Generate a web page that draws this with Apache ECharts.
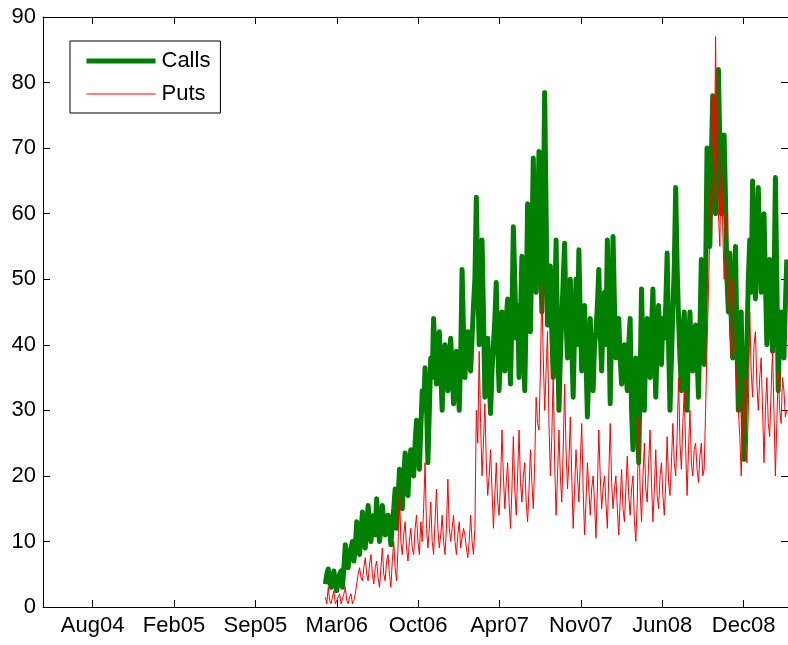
<!DOCTYPE html>
<html>
<head>
<meta charset="utf-8">
<script src="https://cdn.jsdelivr.net/npm/echarts@6/dist/echarts.min.js"></script>
<style>
  html, body { margin: 0; padding: 0; background: #fff; }
  #chart { width: 788px; height: 645px; }
</style>
</head>
<body>
<div id="chart"></div>
<script>
// Tick labels along the date axis (days counted from the Aug04 tick)
const tickLabels = ['Aug04', 'Feb05', 'Sep05', 'Mar06', 'Oct06', 'Apr07', 'Nov07', 'Jun08', 'Dec08'];
const tickDays = [0, 200, 400, 600, 800, 1000, 1200, 1400, 1600];

// Observations every 3.5 days, first one at day 572
const firstDay = 572;
const stepDays = 3.5;

const calls = [
  3.5, 5, 5.8, 4, 3, 4.5, 5.5, 3.5, 2.5, 4,
  5, 5.5, 3, 6, 9.5, 7, 6, 8, 9, 10,
  7, 9, 13, 10, 8, 11, 14.5, 12, 9, 12,
  15.5, 13, 10, 12.5, 14, 11, 16.5, 13, 10, 12,
  15.5, 13, 11, 12.5, 14, 12, 9.5, 13, 15, 18,
  12, 16, 21, 18, 15, 20, 23.5, 19, 17, 22,
  24, 21, 20, 25, 28.5, 24, 21, 27, 33, 30,
  36.5, 31, 22, 30, 38, 35, 44, 38, 34, 40,
  42, 36, 30, 37, 40, 35, 33, 38, 41, 36,
  31, 36, 39, 34, 30, 38, 51.5, 42, 35, 40,
  42, 38, 36, 41, 46, 50, 62.5, 50, 40, 46,
  56, 45, 32, 38, 41, 35, 29.5, 36, 40, 44,
  49.5, 40, 33, 39, 45, 40, 36, 44, 47, 40,
  34, 44, 58, 50, 41, 46, 35, 44, 53.5, 40,
  33, 45, 61.5, 50, 42, 55, 68.5, 55, 48, 58,
  69.5, 56, 45, 60, 78.5, 60, 43, 48, 52, 42,
  35, 45, 56, 42, 30, 38, 44, 50, 55.5, 44,
  38, 45, 50, 40, 32, 42, 50, 40, 54.5, 44,
  36, 42, 46, 38, 29, 36, 44, 38, 33, 40,
  42, 46, 51.5, 42, 36, 44, 48, 40, 56, 44,
  31, 42, 56.5, 46, 38, 42, 44, 38, 34, 38,
  40, 36, 33, 40, 44, 30, 24, 32, 38, 30,
  22, 34, 48.5, 38, 30, 40, 44, 38, 35, 42,
  48.5, 40, 32, 40, 46, 40, 37, 44, 41, 46,
  54, 40, 30, 38, 45, 52, 64, 52, 44, 38,
  33, 42, 45, 36, 30, 40, 45, 38, 36, 42,
  43, 38, 32, 42, 53, 44, 37, 50, 70, 60,
  55, 68, 78, 66, 60, 72, 82, 70, 60, 66,
  72, 62, 50, 45, 54, 44, 38, 48, 55, 40,
  30, 38, 45, 32, 22.5, 32, 40, 50, 56, 48,
  65, 55, 47, 56, 64, 55, 48, 58, 60, 50,
  40, 48, 53, 45, 39, 48, 65.5, 50, 33, 42,
  45, 40, 38, 46, 53
];

const puts = [
  1.5, 0.5, 3, 1, 0.5, 1.5, 2.5, 0.5, 0.3, 1.5,
  2, 0.5, 0.5, 2, 3, 1, 0.5, 1.5, 2, 0.5,
  1, 2, 3.5, 5, 6, 4.5, 4, 6, 7.5, 5,
  4, 6.5, 8, 5, 3.5, 6, 7, 4.5, 3, 6,
  9, 5, 4, 7, 8, 5, 3, 7, 10, 6,
  4, 9, 18.5, 10, 8, 11, 13, 9, 7, 10,
  12, 9, 8, 12, 14, 10, 8, 13, 10, 15,
  22, 12, 9, 12, 16, 10, 8, 13, 18, 12,
  9, 11, 14, 10, 8, 12, 19.5, 12, 10, 12,
  14, 10, 8, 11, 13, 9, 9, 12, 11, 9,
  7.5, 10, 14, 10, 8, 12, 30, 25, 39, 28,
  20, 25, 31, 22, 17, 20, 24, 18, 12, 17,
  22, 16, 14, 19, 27, 20, 15, 19, 22, 16,
  12, 18, 26, 18, 14, 20, 27, 19, 16, 20,
  22, 16, 13, 18, 24, 19, 15, 22, 32, 28,
  27, 36, 49, 38, 30, 36, 42, 28, 20, 26,
  36, 22, 14, 20, 27, 20, 16, 24, 34, 24,
  18, 22, 29, 20, 12, 18, 24, 20, 16, 22,
  28, 18, 11, 16, 22, 18, 14, 18, 20, 16,
  10.5, 18, 27, 20, 15, 18, 20, 16, 12, 20,
  28, 19, 15, 18, 20, 15, 11, 16, 21, 15,
  13, 18, 23, 17, 14, 18, 20, 13, 10, 16,
  29, 18, 13, 20, 25, 18, 16, 22, 27, 19,
  13, 18, 24, 17, 15, 20, 22, 17, 14, 19,
  26, 19, 17, 22, 28, 22, 20, 26, 35, 25,
  21, 28, 33, 24, 17, 24, 30, 22, 20, 24,
  25, 21, 19, 23, 25, 20, 21, 30, 40, 48,
  58, 65, 78, 62, 87, 68, 60, 55, 70, 58,
  50, 55, 60, 48, 43, 38, 50, 40, 38, 33,
  30, 26, 20, 28, 35, 25, 22, 30, 45, 36,
  32, 40, 42, 34, 30, 35, 38, 30, 22, 30,
  35, 28, 26, 33, 39, 30, 20, 28, 36, 30,
  28, 35, 33, 29, 30
];

const toPairs = vals => vals.map((v, i) => [firstDay + i * stepDays, v]);

const axisColor = '#000';
const labelFont = { fontFamily: 'Liberation Sans, Arial, sans-serif', fontSize: 22, color: '#000' };

function frameAxis(extra) {
  return Object.assign({
    type: 'value',
    splitLine: { show: false },
    axisLine: { show: true, onZero: false, lineStyle: { color: axisColor, width: 1 } },
    axisTick: { show: true, inside: true, length: 7, lineStyle: { color: axisColor } }
  }, extra);
}

const chart = echarts.init(document.getElementById('chart'), null, { renderer: 'canvas' });

chart.setOption({
  animation: false,
  backgroundColor: '#fff',
  grid: { left: 43, top: 17, right: -2, bottom: 38, containLabel: false },
  legend: {
    orient: 'vertical',
    left: 70,
    top: 41,
    padding: [9, 10, 8, 14],
    itemWidth: 69,
    itemHeight: 14,
    itemGap: 11,
    borderColor: '#000',
    borderWidth: 1,
    backgroundColor: '#fff',
    itemStyle: { opacity: 0 },
    textStyle: Object.assign({}, labelFont, { padding: [0, 0, 0, 1] }),
    data: [
      { name: 'Calls', lineStyle: { width: 5 } },
      { name: 'Puts', lineStyle: { width: 1 } }
    ]
  },
  xAxis: [
    frameAxis({
      position: 'bottom',
      min: -122,
      max: 1709,
      axisTick: { show: true, inside: true, length: 7, customValues: tickDays, lineStyle: { color: axisColor } },
      axisLabel: {
        customValues: tickDays,
        margin: 8,
        formatter: v => tickLabels[tickDays.indexOf(Math.round(v))] || '',
        ...labelFont
      }
    }),
    frameAxis({
      position: 'top',
      min: -122,
      max: 1709,
      axisTick: { show: true, inside: true, length: 7, customValues: tickDays, lineStyle: { color: axisColor } },
      axisLabel: { show: false }
    })
  ],
  yAxis: [
    frameAxis({
      position: 'left',
      min: 0,
      max: 90,
      interval: 10,
      axisLabel: { margin: 7, ...labelFont }
    }),
    frameAxis({
      position: 'right',
      min: 0,
      max: 90,
      interval: 10,
      axisLabel: { show: false }
    })
  ],
  series: [
    {
      name: 'Calls',
      type: 'line',
      data: toPairs(calls),
      showSymbol: false,
      symbol: 'none',
      lineStyle: { color: '#008000', width: 5, join: 'round' },
      itemStyle: { color: '#008000' },
      z: 2
    },
    {
      name: 'Puts',
      type: 'line',
      data: toPairs(puts),
      showSymbol: false,
      symbol: 'none',
      lineStyle: { color: '#ff0000', width: 1 },
      itemStyle: { color: '#ff0000' },
      z: 3
    }
  ]
});
</script>
</body>
</html>
